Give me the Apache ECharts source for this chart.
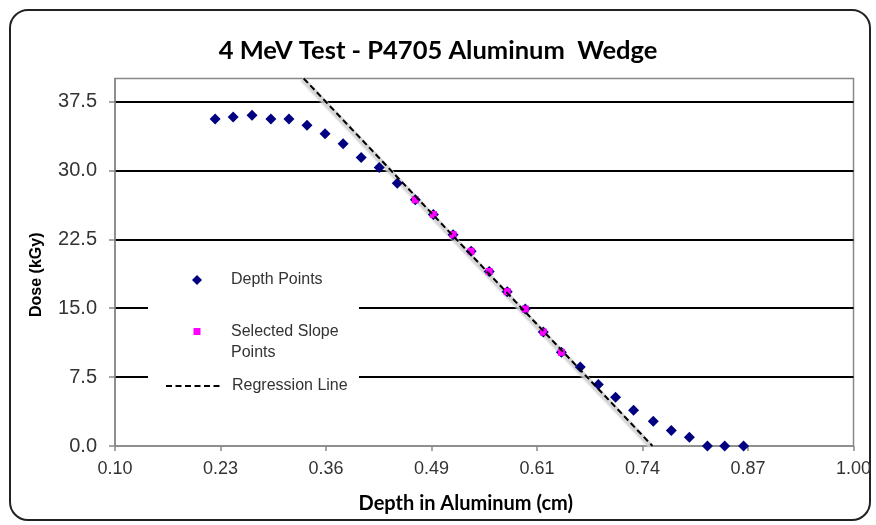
<!DOCTYPE html>
<html><head><meta charset="utf-8">
<script src="https://cdn.jsdelivr.net/npm/echarts@6/dist/echarts.min.js"></script>
<style>html,body{margin:0;padding:0;background:#fff}#c{width:876px;height:525px}</style>
</head><body><div id="c"></div>
<script>
// Depth Points (all measurements)
const depth = [0.222, 0.244, 0.267, 0.290, 0.312, 0.334, 0.356, 0.378, 0.400, 0.422,
               0.444, 0.466, 0.488, 0.512, 0.534, 0.556, 0.578, 0.600, 0.622, 0.644,
               0.667, 0.689, 0.710, 0.732, 0.756, 0.778, 0.800, 0.822, 0.843, 0.866];
const dose = [35.6, 35.8, 36.0, 35.6, 35.6, 34.9, 34.0, 32.9, 31.4, 30.3,
              28.6, 26.8, 25.2, 23.0, 21.2, 19.0, 16.8, 14.9, 12.4, 10.2,
              8.6, 6.7, 5.3, 3.9, 2.7, 1.7, 0.95, 0.0, 0.0, 0.0];
// Selected Slope Points
const slopeDepth = [0.466, 0.488, 0.512, 0.534, 0.556, 0.578, 0.600, 0.622, 0.644];
const slopeDose = [26.8, 25.2, 23.0, 21.2, 19.0, 16.8, 14.9, 12.4, 10.2];
// Regression line end points
const regDepth = [0.330, 0.755];
const regDose = [40, 0];
// Tick labels
const xTicks = [0.10, 0.228571, 0.357143, 0.485714, 0.614286, 0.742857, 0.871429, 1.00];
const yTicks = [0, 7.5, 15, 22.5, 30, 37.5];

const zip = (a, b) => a.map((v, i) => [v, b[i]]);

const chart = echarts.init(document.getElementById('c'));
const legendText = {fontFamily: 'Liberation Sans', fontSize: 16, color: '#333', lineHeight: 21};
chart.setOption({
  animation: false,
  backgroundColor: '#fff',
  title: {
    text: '4 MeV Test - P4705 Aluminum  Wedge',
    left: 'center', top: 33,
    textStyle: {fontFamily: 'Lato', fontWeight: 'bold', fontSize: 25.5, color: '#000'}
  },
  grid: {left: 115, right: 22.5, top: 78.5, bottom: 79, show: true, borderColor: '#888', borderWidth: 1.5},
  graphic: [
    {type: 'rect', z: -10, shape: {x: 10, y: 10, width: 860, height: 510, r: 18},
     style: {fill: 'none', stroke: '#222', lineWidth: 2}},
    {type: 'rect', z: 1, shape: {x: 148, y: 255, width: 211, height: 140},
     style: {fill: '#fff', stroke: 'none'}}
  ],
  legend: [
    {data: [{name: 'Depth Points', icon: 'diamond'}], left: 192, top: 269.5, padding: 0,
     itemWidth: 10, itemHeight: 10, itemStyle: {opacity: 1},
     textStyle: Object.assign({}, legendText, {padding: [0, 0, 0, 24]})},
    {data: [{name: 'Selected Slope Points', icon: 'rect'}], left: 193.5, top: 300, padding: 0,
     itemWidth: 7, itemHeight: 7, itemStyle: {opacity: 1},
     formatter: () => ' \nSelected Slope\nPoints',
     textStyle: Object.assign({}, legendText, {padding: [0, 0, 0, 25.5]})},
    {data: ['Regression Line'], left: 165, top: 375.5, padding: 0,
     itemWidth: 57, itemHeight: 10,
     itemStyle: {opacity: 0, color: 'rgba(0,0,0,0)', borderWidth: 0},
     lineStyle: {shadowBlur: 0, shadowColor: 'transparent'},
     textStyle: Object.assign({}, legendText, {padding: [0, 0, 0, 4]})}
  ],
  xAxis: {
    type: 'value', min: 0.1, max: 1.0,
    name: 'Depth in Aluminum (cm)', nameLocation: 'middle', nameGap: 48,
    nameTextStyle: {fontFamily: 'Lato', fontWeight: 'bold', fontSize: 20, color: '#000', padding: [0, 37, 0, 0]},
    axisLine: {show: true, lineStyle: {color: '#888', width: 1.5}},
    axisTick: {show: true, inside: false, length: 5, customValues: xTicks, lineStyle: {color: '#888', width: 1.5}},
    axisLabel: {customValues: xTicks, margin: 14, fontFamily: 'Liberation Sans', fontSize: 18, color: '#333',
                formatter: v => v.toFixed(2)},
    splitLine: {show: false}
  },
  yAxis: {
    type: 'value', min: 0, max: 40, interval: 7.5,
    name: 'Dose (kGy)', nameLocation: 'middle', nameGap: 70, nameRotate: 90,
    nameTextStyle: {fontFamily: 'Liberation Sans', fontWeight: 'bold', fontSize: 16, color: '#000', padding: [0, 25, 0, 0]},
    axisLine: {show: true, lineStyle: {color: '#888', width: 1.5}},
    axisTick: {show: true, inside: false, length: 6, customValues: yTicks, lineStyle: {color: '#888', width: 1.5}},
    axisLabel: {customValues: yTicks, margin: 18, fontFamily: 'Liberation Sans', fontSize: 20, color: '#333',
                formatter: v => v.toFixed(1)},
    splitLine: {show: true, showMinLine: false, showMaxLine: true, lineStyle: {color: '#000', width: 2}}
  },
  series: [
    {name: 'regShadow', type: 'line', data: zip(regDepth, regDose), symbol: 'none', silent: true, z: 1,
     lineStyle: {color: '#d4d4d4', width: 3, shadowColor: '#cfcfcf', shadowBlur: 2, shadowOffsetX: -2, shadowOffsetY: 1.5}},
    {name: 'Depth Points', type: 'scatter', data: zip(depth, dose), symbol: 'diamond', symbolSize: 11, z: 2,
     itemStyle: {color: '#000080', opacity: 1}},
    {name: 'Selected Slope Points', type: 'scatter', data: zip(slopeDepth, slopeDose), symbol: 'rect', symbolSize: 7, z: 3,
     itemStyle: {color: '#FF00FF', opacity: 1}},
    {name: 'Regression Line', type: 'line', data: zip(regDepth, regDose), symbol: 'none', z: 4,
     itemStyle: {color: '#000'},
     lineStyle: {color: '#000', width: 2, type: [6, 3.5]}}
  ]
});
</script></body></html>
